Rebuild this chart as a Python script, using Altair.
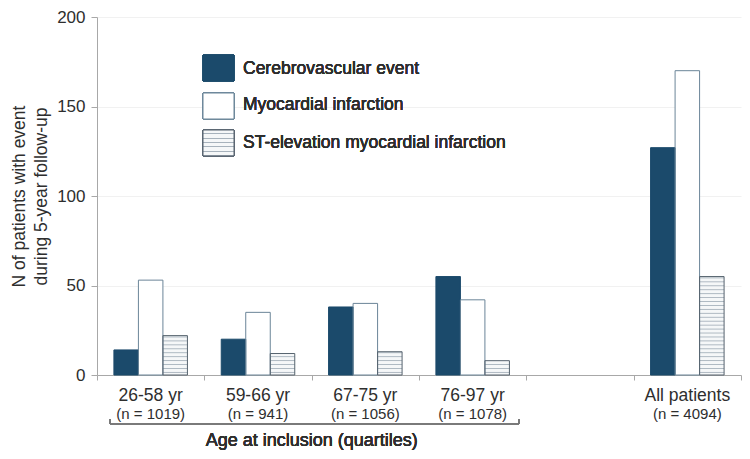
import altair as alt
import pandas as pd

# ---- data -------------------------------------------------------------
groups = ["g1", "g2", "g3", "g4", "gap", "all"]
label_groups = ["g1", "g2", "g3", "g4", "all"]
group_labels = ["26-58 yr", "59-66 yr", "67-75 yr", "76-97 yr", "All patients"]
group_n = ["(n = 1019)", "(n = 941)", "(n = 1056)", "(n = 1078)", "(n = 4094)"]
series = ["Cerebrovascular event", "Myocardial infarction",
          "ST-elevation myocardial infarction"]
cve = [14, 20, 38, 55, 127]
mi = [53, 35, 40, 42, 170]
stemi = [22, 12, 13, 8, 55]
y_ticks = [0, 50, 100, 150, 200]

rows = []
for i, g in enumerate(label_groups):
    for s, vals in zip(series, [cve, mi, stemi]):
        rows.append({"group": g, "series": s, "value": vals[i]})
df = pd.DataFrame(rows)
lab = pd.DataFrame({"group": label_groups, "l1": group_labels, "l2": group_n})

FONT = "Liberation Sans"
DARK = "#1b4a6b"
AXC = "#a8a8a8"
TXT = "#2e2e2e"
HATCH = "#a7b2bc"

x_enc = alt.X("group:N",
              scale=alt.Scale(domain=groups, paddingInner=0, paddingOuter=0),
              axis=alt.Axis(labels=False, title=None, tickBand="extent",
                            domainColor=AXC, tickColor=AXC, tickSize=5,
                            grid=False))
xoff = alt.XOffset("series:N",
                   scale=alt.Scale(domain=series, paddingInner=0, paddingOuter=0.69))
y_enc = alt.Y("value:Q",
              scale=alt.Scale(domain=[0, 200], nice=False),
              axis=alt.Axis(values=y_ticks, title=["N of patients with event",
                                                   "during 5-year follow-up"],
                            titleFont=FONT, titleFontSize=17.5, titleFontWeight="normal",
                            titleColor=TXT, titleLineHeight=22, titlePadding=6,
                            labelFont=FONT, labelFontSize=17, labelColor=TXT,
                            labelPadding=6, tickSize=6, tickColor=AXC, domainColor=AXC,
                            grid=True, gridColor="#f1f1f1"))

base = alt.Chart(df)
fill_scale = alt.Scale(domain=series, range=[DARK, "#ffffff", "#f5f7f8"])
stroke_scale = alt.Scale(domain=series, range=[DARK, "#6b8598", "#56636e"])

bars = base.mark_bar(strokeWidth=0).encode(
    x=x_enc, xOffset=xoff, y=y_enc,
    fill=alt.Fill("series:N", scale=fill_scale, legend=None),
)

# hatch rows for the ST-elevation bars, derived from each bar's value
stripes = base.transform_filter(
    alt.datum.series == series[2]
).transform_calculate(
    s="sequence(1.2, datum.value - 0.6, 2.2)"
).transform_flatten(["s"]).transform_calculate(
    value="datum.s", v2="datum.s + 0.5"
).mark_bar(color=HATCH).encode(
    x=x_enc, xOffset=xoff, y=y_enc, y2="v2:Q"
)

outlines = base.mark_bar(fillOpacity=0, strokeWidth=1).encode(
    x=x_enc, xOffset=xoff, y=y_enc,
    stroke=alt.Stroke("series:N", scale=stroke_scale, legend=None),
)

line1 = alt.Chart(lab).mark_text(font=FONT, fontSize=17.5, color=TXT,
                                 baseline="middle").encode(
    x=x_enc, y=alt.value(379), text="l1:N")
line2 = alt.Chart(lab).mark_text(font=FONT, fontSize=15, color=TXT,
                                 baseline="middle").encode(
    x=x_enc, y=alt.value(397), text="l2:N")

bracket = alt.Chart(lab).mark_rule(color="#777777", strokeWidth=1).encode(
    x=alt.value(13), x2=alt.value(422), y=alt.value(407))
bl = alt.Chart(lab).mark_rule(color="#777777", strokeWidth=1).encode(
    x=alt.value(13), y=alt.value(402), y2=alt.value(407))
br = alt.Chart(lab).mark_rule(color="#777777", strokeWidth=1).encode(
    x=alt.value(422), y=alt.value(402), y2=alt.value(407))
age = alt.Chart(lab).mark_text(font=FONT, fontSize=18, color=TXT,
                               baseline="middle", text="Age at inclusion (quartiles)").encode(
    x=alt.value(214.7), y=alt.value(424))

# legend (drawn by hand)
hatch = alt.LinearGradient(
    gradient="linear", x1=0, y1=0, x2=0, y2=1,
    stops=sum([[alt.GradientStop(color="#f5f7f8", offset=k / 6),
                alt.GradientStop(color="#f5f7f8", offset=(k + 0.74) / 6),
                alt.GradientStop(color=HATCH, offset=(k + 0.74) / 6),
                alt.GradientStop(color=HATCH, offset=(k + 1) / 6)] for k in range(6)], [])
)
leg_fill = [DARK, "#ffffff", hatch]
leg_stroke = [DARK, "#6b8598", "#56636e"]
leg_top = [38, 76, 113]
leg_text_y = [52, 88, 126]
legend_layers = []
for i, s in enumerate(series):
    legend_layers.append(
        alt.Chart(lab).mark_rect(fill=leg_fill[i], stroke=leg_stroke[i], strokeWidth=1).encode(
            x=alt.value(106), x2=alt.value(137),
            y=alt.value(leg_top[i]), y2=alt.value(leg_top[i] + 26)))
    legend_layers.append(
        alt.Chart(lab).mark_text(font=FONT, fontSize=17.5, color=TXT, align="left",
                                 baseline="middle", text=s).encode(
            x=alt.value(146), y=alt.value(leg_text_y[i])))

chart = alt.layer(bars, stripes, outlines, line1, line2, bracket, bl, br, age,
                  *legend_layers).properties(
    width=644, height=358,
    autosize=alt.AutoSizeParams(type="none"),
    padding={"left": 89, "top": 9, "right": 1, "bottom": 76},
).configure_view(strokeWidth=0)

chart.save("out.html", embed_options={"renderer": "svg", "actions": False})
